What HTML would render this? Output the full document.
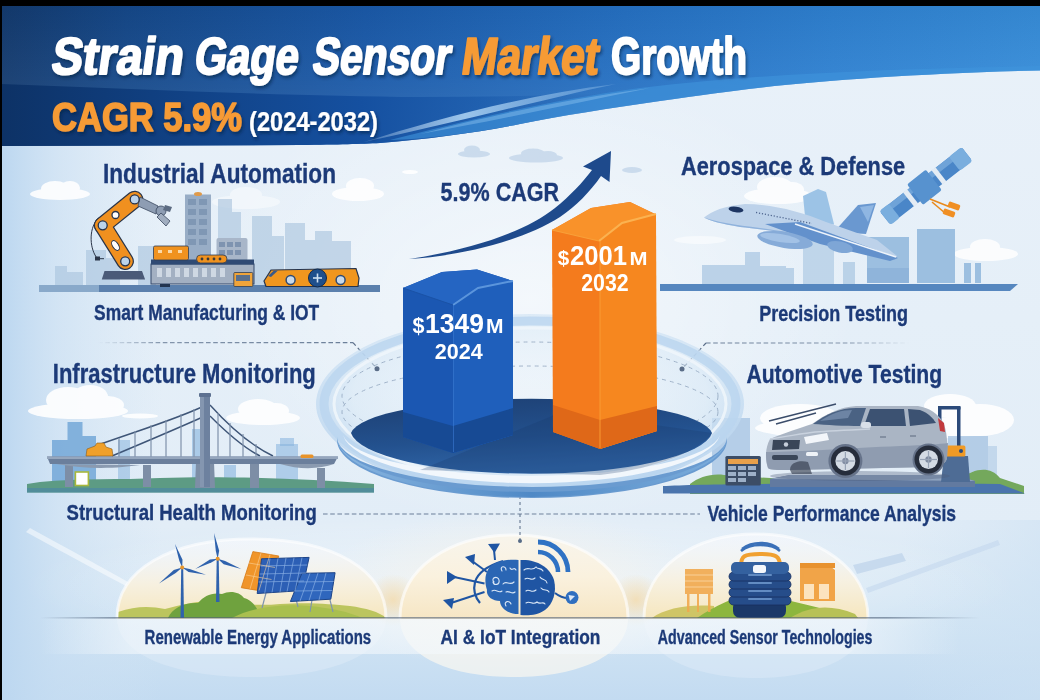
<!DOCTYPE html>
<html><head><meta charset="utf-8"><title>Strain Gage Sensor Market Growth</title>
<style>
html,body{margin:0;padding:0;background:#000;}
body{width:1040px;height:700px;overflow:hidden;}
svg{display:block;}
text{font-family:"Liberation Sans",sans-serif;font-weight:bold;}
</style></head><body>
<svg width="1040" height="700" viewBox="0 0 1040 700">
<defs>
  <linearGradient id="bg" x1="0" y1="0" x2="0" y2="1">
    <stop offset="0" stop-color="#e9f1f9"/>
    <stop offset="0.45" stop-color="#e5eff8"/>
    <stop offset="0.75" stop-color="#e2edf7"/>
    <stop offset="0.88" stop-color="#d2e5f4"/>
    <stop offset="1" stop-color="#c3dbf1"/>
  </linearGradient>
  <linearGradient id="bgl" x1="0" y1="0" x2="1" y2="0">
    <stop offset="0" stop-color="#bcd7f0" stop-opacity="1"/>
    <stop offset="0.35" stop-color="#c6ddf2" stop-opacity="0.6"/>
    <stop offset="1" stop-color="#d0e3f4" stop-opacity="0"/>
  </linearGradient>
  <linearGradient id="bgr" x1="0" y1="0" x2="1" y2="0">
    <stop offset="0" stop-color="#d0e3f4" stop-opacity="0"/>
    <stop offset="1" stop-color="#cde1f3" stop-opacity="0.8"/>
  </linearGradient>
  <radialGradient id="bgc" cx="0.5" cy="0.5" r="0.5">
    <stop offset="0" stop-color="#ffffff" stop-opacity="0.55"/>
    <stop offset="1" stop-color="#ffffff" stop-opacity="0"/>
  </radialGradient>
  <linearGradient id="hdr" x1="0" y1="0" x2="1" y2="0">
    <stop offset="0" stop-color="#133a6e"/>
    <stop offset="0.12" stop-color="#154889"/>
    <stop offset="0.35" stop-color="#1a59a8"/>
    <stop offset="0.6" stop-color="#2570c2"/>
    <stop offset="0.8" stop-color="#2e80d0"/>
    <stop offset="1" stop-color="#368cd8"/>
  </linearGradient>
</defs>
<rect x="0" y="0" width="1040" height="700" fill="#000"/>
<rect x="2" y="6" width="1038" height="694" fill="url(#bg)"/>
<rect x="2" y="140" width="160" height="560" fill="url(#bgl)"/>
<rect x="900" y="520" width="140" height="180" fill="url(#bgr)" opacity="0.7"/>
<ellipse cx="530" cy="300" rx="330" ry="230" fill="url(#bgc)"/>
<!-- faint bg clouds -->
<g fill="#c3d6ea" opacity="0.8">
  <ellipse cx="474" cy="154" rx="16" ry="3.5"/><ellipse cx="472" cy="150" rx="8" ry="4.5"/>
  <ellipse cx="536" cy="158" rx="27" ry="4.5"/><ellipse cx="533" cy="153.5" rx="12" ry="5"/><ellipse cx="548" cy="155" rx="9" ry="4"/>
  <ellipse cx="632" cy="170" rx="10" ry="3"/>
</g>
<ellipse cx="410" cy="172" rx="8" ry="2" fill="#fff" opacity="0.9"/>
<!-- dashed connectors -->
<defs>
  <linearGradient id="fadeL" gradientUnits="userSpaceOnUse" x1="98" y1="0" x2="353" y2="0">
    <stop offset="0" stop-color="#6b7f99" stop-opacity="0"/>
    <stop offset="0.25" stop-color="#6b7f99" stop-opacity="0.8"/>
    <stop offset="1" stop-color="#6b7f99"/>
  </linearGradient>
  <linearGradient id="fadeR" gradientUnits="userSpaceOnUse" x1="706" y1="0" x2="910" y2="0">
    <stop offset="0" stop-color="#6b7f99"/>
    <stop offset="0.7" stop-color="#6b7f99" stop-opacity="0.8"/>
    <stop offset="1" stop-color="#6b7f99" stop-opacity="0"/>
  </linearGradient>
</defs>
<g stroke-width="1.2" stroke-dasharray="4.6 2.6" fill="none">
  <line x1="98" y1="342.7" x2="353" y2="342.7" stroke="url(#fadeL)"/>
  <line x1="706" y1="343" x2="910" y2="343" stroke="url(#fadeR)"/>
  <line x1="323" y1="514" x2="700" y2="514" stroke="#6b7f99"/>
</g>
<g stroke="#5a6d88" stroke-width="1.2" stroke-dasharray="4 3" fill="none">
  <line x1="353" y1="342.7" x2="377" y2="368.7"/>
  <line x1="706" y1="343" x2="682" y2="369"/>
</g>
<!-- header band -->
<defs>
  <linearGradient id="hdrv" gradientUnits="userSpaceOnUse" x1="0" y1="6" x2="0" y2="146">
    <stop offset="0" stop-color="#000" stop-opacity="0.04"/>
    <stop offset="0.5" stop-color="#fff" stop-opacity="0.04"/>
    <stop offset="1" stop-color="#fff" stop-opacity="0.12"/>
  </linearGradient>
  <linearGradient id="dband" gradientUnits="userSpaceOnUse" x1="2" y1="0" x2="600" y2="0">
    <stop offset="0" stop-color="#0d3266"/>
    <stop offset="0.25" stop-color="#103f80"/>
    <stop offset="0.6" stop-color="#1550a0"/>
    <stop offset="0.8" stop-color="#1a5aab" stop-opacity="0.7"/>
    <stop offset="1" stop-color="#1f62b2" stop-opacity="0"/>
  </linearGradient>
  <linearGradient id="swoosh" x1="0" y1="0" x2="1" y2="0">
    <stop offset="0" stop-color="#cfe4f7" stop-opacity="0.2"/>
    <stop offset="0.4" stop-color="#a9d0f2" stop-opacity="0.9"/>
    <stop offset="1" stop-color="#9cc8ef" stop-opacity="0.3"/>
  </linearGradient>
  <filter id="tsh" x="-5%" y="-20%" width="110%" height="150%">
    <feDropShadow dx="1.5" dy="2.5" stdDeviation="1.5" flood-color="#06203f" flood-opacity="0.55"/>
  </filter>
</defs>
<path d="M2 6 H1040 V70.5 C930 73 830 80 760 87.7 C730 91 700 95.5 660 101 C610 108 560 116 520 124 C480 132 430 139 380 143 C360 144 340 144.5 300 145 L2 146 Z" fill="url(#hdr)"/>
<path d="M2 6 H1040 V70.5 C930 73 830 80 760 87.7 C730 91 700 95.5 660 101 C610 108 560 116 520 124 C480 132 430 139 380 143 C360 144 340 144.5 300 145 L2 146 Z" fill="url(#hdrv)"/>
<path d="M2 84 C150 90 300 96 420 97 C480 97 540 96 600 94 L600 108 C560 116 540 120 520 124 C480 132 430 139 380 143 C360 144 340 144.5 300 145 L2 146 Z" fill="url(#dband)"/>
<path d="M390 140 C460 122 540 102 640 88 C760 74 880 69 1040 66 V70.5 C930 73 830 80 760 87.7 C730 91 700 95.5 660 101 C610 108 560 116 520 124 C480 132 430 139 390 140 Z" fill="#3f94dc" opacity="0.6"/>
<path d="M364 142 C440 118 530 94 616 84 C540 100 450 124 364 142 Z" fill="url(#swoosh)"/>
<path d="M420 134 C480 118 560 100 650 88 C570 104 490 122 420 134 Z" fill="#8cc4f0" opacity="0.45"/>

<!-- title -->
<g filter="url(#tsh)">
<g fill="#fff" stroke="#fff" stroke-width="2" stroke-linejoin="round">
<text transform="translate(50 73.5) skewX(-8)" x="0" y="0" font-size="52" textLength="132" lengthAdjust="spacingAndGlyphs">Strain</text>
<text transform="translate(193 73.5) skewX(-8)" x="0" y="0" font-size="52" textLength="104" lengthAdjust="spacingAndGlyphs">Gage</text>
<text transform="translate(311 73.5) skewX(-8)" x="0" y="0" font-size="52" textLength="138" lengthAdjust="spacingAndGlyphs">Sensor</text>
<text transform="translate(460 74) skewX(-8)" x="0" y="0" font-size="52" textLength="137" lengthAdjust="spacingAndGlyphs" fill="#f69b35" stroke="#f69b35">Market</text>
<text x="611" y="74" font-size="52" textLength="136" lengthAdjust="spacingAndGlyphs">Growth</text>
</g>
<text x="52" y="131" font-size="40" textLength="190" lengthAdjust="spacingAndGlyphs" fill="#f69b35" stroke="#f69b35" stroke-width="1.6" stroke-linejoin="round">CAGR 5.9%</text>
<text x="249" y="131" font-size="27" textLength="129" lengthAdjust="spacingAndGlyphs" fill="#fff" stroke="#fff" stroke-width="0.2" font-weight="normal">(2024-2032)</text>
</g>

<!-- ===== Industrial Automation illustration ===== -->
<g id="ind">
  <g fill="#fff" opacity="0.9">
    <ellipse cx="60" cy="194" rx="30" ry="6"/><ellipse cx="55" cy="189" rx="14" ry="8"/><ellipse cx="70" cy="188" rx="10" ry="7"/>
    <ellipse cx="358" cy="194" rx="26" ry="7"/><ellipse cx="360" cy="186" rx="14" ry="8"/>
  </g>
  <g fill="#fff" opacity="0.45"><ellipse cx="246" cy="202" rx="34" ry="7"/><ellipse cx="246" cy="195" rx="16" ry="8"/></g>
  <g fill="#a9c4de" opacity="0.62">
    <rect x="55" y="266" width="12" height="20"/><rect x="67" y="272" width="16" height="14"/>
    <rect x="86" y="250" width="20" height="36"/><rect x="106" y="258" width="14" height="28"/>
    <rect x="138" y="246" width="18" height="40"/>
    <rect x="218" y="199" width="14" height="40"/><rect x="232" y="212" width="9" height="27"/>
    <rect x="252" y="216" width="20" height="70"/><rect x="272" y="236" width="12" height="50"/>
    <rect x="285" y="223" width="20" height="63"/><rect x="305" y="240" width="10" height="46"/>
    <rect x="315" y="231" width="17" height="55"/><rect x="332" y="241" width="19" height="45"/>
  </g>
  <!-- tall building -->
  <rect x="185" y="194.5" width="26" height="67" fill="#98adc6"/>
  <g fill="#7f97b4">
    <rect x="188" y="199" width="8" height="6"/><rect x="199" y="199" width="8" height="6"/>
    <rect x="188" y="209" width="8" height="6"/><rect x="199" y="209" width="8" height="6"/>
    <rect x="188" y="219" width="8" height="6"/><rect x="199" y="219" width="8" height="6"/>
    <rect x="188" y="229" width="8" height="6"/><rect x="199" y="229" width="8" height="6"/>
    <rect x="188" y="239" width="8" height="6"/><rect x="199" y="239" width="8" height="6"/>
  </g>
  <ellipse cx="198" cy="194" rx="4" ry="2" fill="#e09a4a"/>
  <rect x="216.5" y="238" width="31" height="23" rx="2" fill="#a8b6c9"/>
  <g fill="#7e93b0"><rect x="219" y="242" width="6" height="5"/><rect x="227" y="242" width="6" height="5"/><rect x="235" y="242" width="6" height="5"/><rect x="219" y="250" width="6" height="5"/><rect x="227" y="250" width="6" height="5"/><rect x="235" y="250" width="6" height="5"/></g>
  <!-- ground -->
  <path d="M39 285 H380 V292 H39 Z" fill="#5b80ad"/>
  <rect x="39" y="285" width="60" height="7" fill="#a9c4de" opacity="0.6"/>
  <!-- machine -->
  <rect x="151" y="264" width="103" height="20" fill="#a3b0c2" stroke="#34496b" stroke-width="1"/>
  <rect x="151" y="259.5" width="103" height="5" fill="#2f4a74"/>
  <g fill="#cfd8e3"><rect x="157" y="268" width="5" height="9"/><rect x="166" y="268" width="5" height="9"/><rect x="175" y="268" width="5" height="9"/><rect x="184" y="268" width="5" height="9"/><rect x="193" y="268" width="5" height="9"/><rect x="202" y="268" width="5" height="9"/><rect x="211" y="268" width="5" height="9"/><rect x="220" y="268" width="5" height="9"/></g>
  <rect x="153.5" y="246" width="35" height="14" rx="1.5" fill="#f0921f" stroke="#2f3d55" stroke-width="0.8"/>
  <g fill="#fbd9a8"><rect x="158" y="250" width="4" height="3"/><rect x="168" y="250" width="4" height="3"/><rect x="178" y="250" width="4" height="3"/></g>
  <rect x="196.5" y="255" width="30.5" height="8" rx="4" fill="#f0921f" stroke="#2f3d55" stroke-width="0.8"/>
  <g fill="#3a3a3a"><circle cx="202" cy="259" r="1.4"/><circle cx="208" cy="259" r="1.4"/><circle cx="214" cy="259" r="1.4"/><circle cx="220" cy="259" r="1.4"/></g>
  <rect x="233.8" y="272.5" width="19" height="14" rx="1" fill="#f0a43a" stroke="#2f3d55" stroke-width="0.8"/>
  <rect x="236" y="275" width="14" height="6" fill="#5a6f8c"/>
  <rect x="160" y="284" width="10" height="3" fill="#23344f"/>
  <!-- AGV -->
  <path d="M266 286.5 L264 281 L271 270 L356 268.5 L359 278 L358 286.5 Z" fill="#f0961e" stroke="#26344d" stroke-width="1.2"/>
  <path d="M268 276 L274 270.5 L278 270.5 L271 277 Z" fill="#3a5a8a"/>
  <circle cx="317.5" cy="278" r="9" fill="#1f4f8c" stroke="#10294d" stroke-width="1"/>
  <g stroke="#cfe0f2" stroke-width="1.6"><line x1="313" y1="278" x2="322" y2="278"/><line x1="317.5" y1="273.5" x2="317.5" y2="282.5"/></g>
  <circle cx="290.6" cy="280" r="4.5" fill="#c8d9ea" stroke="#2d4a74" stroke-width="1.5"/>
  <circle cx="340.6" cy="280" r="4.5" fill="#c8d9ea" stroke="#2d4a74" stroke-width="1.5"/>
  <!-- robot arm -->
  <path d="M101.8 279.5 L104.5 271 L142 271 L145.1 279.5 Z" fill="#4a5a78"/>
  <path d="M97.5 219 C88 230 90 250 97.5 258.7 L104 258.7" fill="none" stroke="#2b3548" stroke-width="1"/>
  <rect x="95" y="256.5" width="5" height="4" fill="#2b3548"/>
  <g stroke="#2b3548" stroke-width="1.2">
    <line x1="125.2" y1="261.3" x2="102.7" y2="225.3" stroke-width="17.5" stroke-linecap="round"/>
    <line x1="102.7" y1="225.3" x2="134.7" y2="199.4" stroke-width="17.5" stroke-linecap="round"/>
  </g>
  <g stroke="#f0901f">
    <line x1="125.2" y1="261.3" x2="102.7" y2="225.3" stroke-width="15" stroke-linecap="round"/>
    <line x1="102.7" y1="225.3" x2="134.7" y2="199.4" stroke-width="15" stroke-linecap="round"/>
  </g>
  <path d="M140 197 L158 206 L156 214 L138 206 Z" fill="#8e9db3" stroke="#3a475e" stroke-width="0.8"/>
  <circle cx="161" cy="211" r="5" fill="#8e9db3" stroke="#3a475e" stroke-width="0.8"/>
  <path d="M161 213 L170 221 L166 226 L157 217 Z" fill="#a0adbf" stroke="#3a475e" stroke-width="0.8"/>
  <path d="M165 205 L172 207 L170 212 L163 210 Z" fill="#5c6b82"/>
  <g fill="#bcd4ec" stroke="#26344d" stroke-width="1.3">
    <circle cx="102.7" cy="225.3" r="4.5"/><circle cx="134.7" cy="199.4" r="4.5"/><circle cx="125.2" cy="261.3" r="4.5"/>
    <circle cx="115.5" cy="215" r="3.5" fill="#fff"/>
  </g>
  <ellipse cx="115.5" cy="245.5" rx="3" ry="5.5" transform="rotate(-32 115.5 245.5)" fill="#fff" stroke="#26344d" stroke-width="1"/>
</g>

<!-- ===== Aerospace illustration ===== -->
<g id="aero">
  <g fill="#fff" opacity="0.85">
    <ellipse cx="778" cy="196" rx="34" ry="8"/><ellipse cx="775" cy="187" rx="18" ry="10"/><ellipse cx="792" cy="190" rx="12" ry="8"/>
    <ellipse cx="986" cy="254" rx="32" ry="7"/><ellipse cx="985" cy="247" rx="15" ry="8"/>
  </g>
  <g fill="#fff" opacity="0.5"><ellipse cx="700" cy="240" rx="26" ry="4"/></g>
  <g fill="#b3cde6" opacity="0.85">
    <rect x="702" y="265" width="45" height="20"/><rect x="745" y="252" width="15" height="33"/>
    <rect x="760" y="266" width="26" height="19"/><rect x="786" y="268" width="8" height="17"/>
    <rect x="803" y="224" width="31" height="61" opacity="0.9"/>
    <rect x="843" y="262" width="12" height="23"/>
  </g>
  <g fill="#9cbfe0">
    <rect x="867" y="237" width="42" height="46"/><rect x="917" y="229" width="38" height="54"/>
    <rect x="964" y="263" width="7" height="20"/><rect x="975" y="263" width="6" height="20"/>
  </g>
  <rect x="867" y="268" width="42" height="15" fill="#8fb4da"/>
  <!-- ground -->
  <path d="M660 284 H1018 L1010 291 H660 Z" fill="#5687bf"/>
  <!-- plane -->
  <path d="M803 196 L818 189 L826 192 L834 224 L806 226 Z" fill="#9cc3e6"/>
  <path d="M834 232 L858 205 L876 203 L866 234 Z" fill="#6a98d0"/>
  <path d="M860 207 L874 205 L868 222 Z" fill="#8fb6e2"/>
  <path d="M704 217.5 C712 211 724 206 745 204 C770 204 800 211 826 222 L877 240 L897 256 L895 260 C870 256 840 246 816 239 C790 233 760 229 740 227 C722 224 710 221 704 217.5 Z" fill="#bdd2ea"/>
  <path d="M704 217.5 C716 222 735 225 760 228 C790 232 820 238 850 246 L897 258 L895 260 C870 256 840 246 816 239 C790 233 760 229 740 227 C722 224 710 221 704 217.5 Z" fill="#8fb2dc"/>
  <path d="M765 224 L800 222 L898 258 L890 261 L820 244 Z" fill="#6391cc"/>
  <path d="M795 224 L896 257" stroke="#eef4fb" stroke-width="1.5"/>
  <ellipse cx="785" cy="240" rx="28" ry="8" transform="rotate(9 785 240)" fill="#86abd8"/>
  <ellipse cx="780" cy="238" rx="20" ry="4" transform="rotate(9 780 238)" fill="#a3c2e6"/>
  <ellipse cx="840" cy="247" rx="13" ry="5.5" transform="rotate(12 840 247)" fill="#7ea6d6"/>
  <ellipse cx="736" cy="209.5" rx="7.5" ry="2.8" transform="rotate(8 736 209.5)" fill="#1d3562"/>
  <path d="M756 212.5 L812 223.5" stroke="#4f6690" stroke-width="1.3" stroke-dasharray="1.2 1.8"/>
  <!-- satellite -->
  <g transform="translate(926 186) rotate(-38)">
    <rect x="-52" y="-8.5" width="104" height="17" rx="3" fill="#4a86c8"/>
    <rect x="-52" y="-8.5" width="104" height="6" rx="2" fill="#6fa3d8"/>
    <rect x="-22" y="-9" width="5" height="18" fill="#e4ecf4"/>
    <rect x="14" y="-9" width="5" height="18" fill="#e4ecf4"/>
    <rect x="-14" y="-13" width="24" height="26" rx="2" fill="#5792cf"/>
    <rect x="36" y="-9" width="16" height="18" rx="3" fill="#7aaede"/>
    <rect x="-52" y="-9" width="12" height="18" rx="3" fill="#7aaede"/>
  </g>
  <g stroke="#e98a1c" stroke-width="1.6" fill="none"><path d="M930 199 L950 207"/><path d="M932 202 L945 213"/></g>
  <rect x="948" y="203" width="12" height="6" rx="1.5" transform="rotate(20 954 206)" fill="#f08f23"/>
  <rect x="943" y="210" width="12" height="6" rx="1.5" transform="rotate(20 949 213)" fill="#f08f23"/>
</g>

<!-- ===== Infrastructure illustration ===== -->
<g id="infra">
  <g fill="#fff" opacity="0.9">
    <ellipse cx="78" cy="411" rx="50" ry="8"/><ellipse cx="68" cy="400" rx="22" ry="13"/><ellipse cx="90" cy="397" rx="18" ry="12"/><ellipse cx="108" cy="405" rx="16" ry="9"/>
    <ellipse cx="140" cy="416" rx="18" ry="2.5"/>
    <ellipse cx="263" cy="418" rx="37" ry="7"/><ellipse cx="258" cy="409" rx="20" ry="10"/><ellipse cx="276" cy="411" rx="13" ry="8"/>
  </g>
  <g fill="#74a8d8" opacity="0.85">
    <rect x="52" y="440" width="17" height="45"/><rect x="67.5" y="422" width="15" height="63"/><rect x="82" y="436" width="14" height="49"/>
    <rect x="118" y="440" width="12" height="45" opacity="0.5"/>
    <rect x="192" y="429" width="10" height="56" opacity="0.6"/>
    <rect x="224" y="465" width="12" height="20" opacity="0.6"/>
    <rect x="276" y="444" width="22" height="41" opacity="0.55"/><rect x="280" y="438" width="14" height="8" opacity="0.55"/>
  </g>
  <path d="M27 484 L40 482 C80 478 120 480 160 478 C220 476 300 478 374 484 V492.5 H27 Z" fill="#5d9b84"/>
  <path d="M27 488 H374 V492.5 H27 Z" fill="#4f8aa0" opacity="0.8"/>
  <!-- piers -->
  <g fill="#7d8ea6">
    <rect x="65" y="465" width="8" height="22"/><rect x="143" y="465" width="8" height="22"/>
    <rect x="250" y="464" width="9" height="24"/><rect x="317" y="468" width="8" height="20"/>
    <path d="M196 462 L200 462 V466 H210 V462 L214 462 L215 488 H195 Z"/>
  </g>
  <rect x="75.4" y="472" width="13" height="13.5" fill="#fff" stroke="#a8b83c" stroke-width="1.6"/>
  <!-- cables -->
  <g fill="none" stroke="#3e5577" stroke-width="1.4">
    <path d="M98 445 C140 430 180 418 206 405"/>
    <path d="M112 456 C150 440 185 425 205 416"/>
    <path d="M210 405 C228 425 250 445 273 456"/>
    <path d="M210 416 C226 432 244 448 260 456"/>
  </g>
  <g stroke="#7f91aa" stroke-width="1.2">
    <line x1="119" y1="438" x2="119" y2="457"/><line x1="135" y1="431" x2="135" y2="457"/><line x1="151" y1="425" x2="151" y2="457"/>
    <line x1="166" y1="420" x2="166" y2="457"/><line x1="181" y1="414" x2="181" y2="457"/><line x1="194" y1="409" x2="194" y2="457"/>
    <line x1="218" y1="413" x2="218" y2="457"/><line x1="230" y1="423" x2="230" y2="457"/><line x1="243" y1="434" x2="243" y2="457"/><line x1="256" y1="444" x2="256" y2="457"/>
  </g>
  <!-- deck -->
  <path d="M47 456.5 H338 L334 464 H50 Z" fill="#6b7f9c"/>
  <path d="M47 456.5 H338 V459 H47 Z" fill="#95a6bd"/>
  <path d="M56 464 C90 470 120 468 140 465 Z" fill="#8a9ab0"/>
  <path d="M280 464 C300 470 320 469 334 464 Z" fill="#8a9ab0"/>
  <!-- tower -->
  <rect x="200" y="395" width="10" height="92" fill="#6d819f"/>
  <rect x="200" y="395" width="4" height="92" fill="#8496b0"/>
  <rect x="199" y="393" width="12" height="4" rx="1" fill="#5d7191"/>
  <!-- vehicles -->
  <path d="M86 456 L87 449 L95 446 L97 443 L104 443 L106 447 L112 449 L113 456 Z" fill="#f0a02a" stroke="#8a5a1a" stroke-width="0.6"/>
  <rect x="300.5" y="454.5" width="13" height="3.5" rx="1.5" fill="#e8932a"/>
</g>

<!-- ===== Automotive illustration ===== -->
<g id="auto">
  <g fill="#fff" opacity="0.9">
    <ellipse cx="880" cy="428" rx="125" ry="12"/><ellipse cx="800" cy="418" rx="40" ry="14"/><ellipse cx="980" cy="420" rx="34" ry="16"/><ellipse cx="950" cy="406" rx="26" ry="12"/>
  </g>
  <g fill="#a9c6e3" opacity="0.8">
    <rect x="712" y="418" width="38" height="62"/><rect x="948" y="436" width="40" height="44"/><rect x="975" y="446" width="22" height="34" opacity="0.7"/>
  </g>
  <!-- ground -->
  <path d="M690 484 C700 476 715 472 730 476 L770 478 L960 479 C975 468 990 466 1000 478 L1024 486 V494 H690 Z" fill="#74a85c"/>
  <path d="M663 486 C700 484 800 483 1000 484 L1025 493.5 H663 Z" fill="#4a74ad"/>
  <!-- control box -->
  <rect x="725.4" y="456" width="35.4" height="29.4" rx="1.5" fill="#3c4d66"/>
  <rect x="728" y="459" width="30" height="5" fill="#e8a04a"/>
  <g fill="#9db0c8"><rect x="728" y="466" width="8" height="4"/><rect x="738" y="466" width="8" height="4"/><rect x="748" y="466" width="8" height="4"/><rect x="728" y="472" width="8" height="4"/><rect x="738" y="472" width="8" height="4"/><rect x="748" y="472" width="8" height="4"/><rect x="728" y="478" width="8" height="4"/><rect x="738" y="478" width="8" height="4"/></g>
  <!-- platform -->
  <path d="M770 479 L790 475 H955 L975 481 V487 H770 Z" fill="#627aa0"/>
  <path d="M770 479 L790 475 H955 L975 481 Z" fill="#8ea2bd"/>
  <!-- test stand -->
  <rect x="938" y="407" width="3.5" height="48" fill="#2b4a7a"/><rect x="957" y="407" width="3.5" height="48" fill="#2b4a7a"/>
  <rect x="938" y="406" width="22.5" height="3.5" fill="#2b4a7a"/>
  <path d="M944 456 H968 L970 482 H941 Z" fill="#4e6c95"/>
  <rect x="945.4" y="445.5" width="20" height="11" rx="1.5" fill="#f09a25"/>
  <circle cx="961" cy="451" r="2" fill="#2b4a7a"/>
  <!-- speed lines -->
  <g stroke="#3a4c6a" stroke-width="1.3" fill="none"><path d="M769 421 L836 404"/><path d="M776 424 L816 413"/></g>
  <!-- car -->
  <ellipse cx="860" cy="476" rx="90" ry="5" fill="#4c5d78" opacity="0.35"/>
  <path d="M768 468 C765 460 765 448 770 439 C784 433 800 428 812 424 C826 414 840 407 856 406 L918 406 C930 408 938 414 943 422 C947 430 948 445 947 458 C946 464 940 466 930 467 L790 470 C778 470 770 470 768 468 Z" fill="#aab5c4"/>
  <path d="M766 452 C800 452 850 448 900 446 C925 445 940 444 948 443 L947 458 C946 464 940 466 930 467 L790 470 C778 470 770 470 768 468 C766 462 766 456 766 452 Z" fill="#8f9cb0"/>
  <path d="M770 439 C790 436 805 433 815 432 C830 431 850 430 870 429" fill="none" stroke="#c9d2de" stroke-width="1.5"/>
  <path d="M813 424 C826 414 840 408 856 408 L866 408 L860 426 C845 426 826 425 813 424 Z" fill="#4a6283"/>
  <path d="M820 421 C832 413 842 410 852 410 L848 418 Z" fill="#7c93b2" opacity="0.7"/>
  <path d="M864 426 L870 409 L904 409 L906 426 Z" fill="#3c5272"/>
  <path d="M910 426 L908 409 L920 410 C928 413 933 418 936 423 Z" fill="#3c5272"/>
  <rect x="861" y="422" width="10" height="6" rx="2.5" fill="#d9e0e9"/>
  <path d="M938 418 L944 423 L945 432 L940 431 Z" fill="#c23a3d"/>
  <path d="M773 440 L800 440 L799 449 L772 450 Z" fill="#3a4658"/>
  <circle cx="786" cy="444.5" r="2.2" fill="#c6ceda"/>
  <path d="M804 437 L827 433 L829 440 L806 444 Z" fill="#f3f6fa"/>
  <rect x="772" y="455" width="26" height="5" rx="2" fill="#3a4658"/>
  <rect x="806" y="452" width="12" height="4" rx="1.5" fill="#eef2f7"/>
  <line x1="880" y1="437" x2="886" y2="437" stroke="#6a778b" stroke-width="1.2"/>
  <line x1="910" y1="436" x2="916" y2="436" stroke="#6a778b" stroke-width="1.2"/>
  <circle cx="845.4" cy="461" r="17" fill="#66738a"/>
  <circle cx="928.5" cy="459.5" r="16" fill="#66738a"/>
  <circle cx="845.4" cy="461" r="14.5" fill="#262d3b"/>
  <circle cx="928.5" cy="459.5" r="14" fill="#262d3b"/>
  <circle cx="845.4" cy="461" r="10" fill="#d4dbe4"/><circle cx="845.4" cy="461" r="3.2" fill="#7f8ba0"/>
  <circle cx="928.5" cy="459.5" r="9.5" fill="#d4dbe4"/><circle cx="928.5" cy="459.5" r="3.2" fill="#7f8ba0"/>
  <g stroke="#98a4b6" stroke-width="1.2"><line x1="845.4" y1="452" x2="845.4" y2="470"/><line x1="836.4" y1="461" x2="854.4" y2="461"/><line x1="928.5" y1="451" x2="928.5" y2="468"/><line x1="920" y1="459.5" x2="937" y2="459.5"/></g>
  <path d="M790 470 C790 462 800 460 808 462 L812 474 L792 474 Z" fill="#2c3444" opacity="0.6"/>
</g>

<!-- ===== Bottom domes ===== -->
<defs>
  <linearGradient id="warm" x1="0" y1="0" x2="0" y2="1">
    <stop offset="0" stop-color="#eef4fa" stop-opacity="0.2"/>
    <stop offset="0.55" stop-color="#f7f0de" stop-opacity="0.9"/>
    <stop offset="1" stop-color="#f6e6bd"/>
  </linearGradient>
  <linearGradient id="warm2" x1="0" y1="0" x2="0" y2="1">
    <stop offset="0" stop-color="#f8f4ea" stop-opacity="0.8"/>
    <stop offset="0.5" stop-color="#faf1de"/>
    <stop offset="1" stop-color="#f6e6c4"/>
  </linearGradient>
  <radialGradient id="glowW" cx="0.5" cy="0.5" r="0.5">
    <stop offset="0" stop-color="#f4d9a6" stop-opacity="0.75"/>
    <stop offset="1" stop-color="#f4d9a6" stop-opacity="0"/>
  </radialGradient>
  <radialGradient id="glowC" cx="0.5" cy="0.5" r="0.5">
    <stop offset="0" stop-color="#f7f3ea" stop-opacity="0.9"/>
    <stop offset="1" stop-color="#f7f3ea" stop-opacity="0"/>
  </radialGradient>
  <clipPath id="upper"><rect x="0" y="0" width="1040" height="619"/></clipPath>
  <clipPath id="cl1"><path d="M117 618 C117 570 170 539 252 539 C334 539 386 570 386 618 C386 655 330 677 252 677 C174 677 117 655 117 618 Z"/></clipPath>
  <clipPath id="cl2"><path d="M400 618 C400 568 450 535 514 535 C578 535 628 568 628 618 C628 655 580 677 514 677 C448 677 400 655 400 618 Z"/></clipPath>
  <clipPath id="cl3"><path d="M644 618 C644 568 694 534 756 534 C818 534 868 568 868 618 C868 655 820 678 756 678 C692 678 644 655 644 618 Z"/></clipPath>
</defs>
<ellipse cx="520" cy="585" rx="500" ry="70" fill="url(#bgc)"/>
<ellipse cx="514" cy="590" rx="200" ry="80" fill="url(#glowC)"/>
<ellipse cx="393" cy="600" rx="28" ry="26" fill="url(#glowW)"/>
<ellipse cx="636" cy="600" rx="28" ry="26" fill="url(#glowW)"/>
<!-- faint streaks right -->
<g fill="#c2d6ec" opacity="0.8">
  <path d="M853 565 L902 553 L906 561 L857 574 Z"/>
  <path d="M866 588 L998 540 L1000 545 L868 593 Z" opacity="0.7"/>
</g>
<path d="M30 528 C70 550 100 566 128 582 L126 586 C96 570 66 554 26 532 Z" fill="#fff" opacity="0.5"/>
<!-- dome 1 -->
<path d="M117 618 C117 570 170 539 252 539 C334 539 386 570 386 618 C386 655 330 677 252 677 C174 677 117 655 117 618 Z" fill="#fbfcfd" opacity="0.5" clip-path="url(#upper)"/>
<path d="M117 618 C117 570 170 539 252 539 C334 539 386 570 386 618 C386 655 330 677 252 677 C174 677 117 655 117 618 Z" fill="#fbfcfd" opacity="0.22"/>
<g clip-path="url(#cl1)">
  <rect x="118" y="539" width="268" height="80" fill="url(#warm)"/>
  <path d="M118 612 C135 606 150 606 165 609 C185 604 200 600 215 602 C240 604 260 606 280 604 C310 602 330 604 350 606 C365 608 380 612 386 618 H118 Z" fill="#bcc55e"/>
  <path d="M168 618 C172 608 185 602 198 603 C204 596 212 592 222 594 C230 590 240 592 244 598 C252 600 256 606 262 618 Z" fill="#6fa23e"/>
  <path d="M232 618 C250 608 280 603 310 606 C330 608 350 612 362 618 Z" fill="#a9bf4e"/>
</g>
<path clip-path="url(#upper)" d="M117 618 C117 570 170 539 252 539 C334 539 386 570 386 618 C386 655 330 677 252 677 C174 677 117 655 117 618 Z" fill="none" stroke="#fff" stroke-width="3" opacity="0.6"/>
<!-- turbines -->
<g fill="#2f62ad">
  <path d="M180.5 618 L181.2 568 H183.2 L184 618 Z"/>
  <path d="M216 602 L216.7 559 H218.7 L219.5 602 Z"/>
  <path d="M182.2 567.5 L182.5 559.7 L175.0 544.0 L179.3 560.7 Z"/>
  <path d="M182.2 567.5 L188.6 572.1 L206.0 574.7 L189.6 568.9 Z"/>
  <path d="M182.2 567.5 L173.8 570.1 L159.0 583.4 L175.7 572.9 Z"/>
  <path d="M217.7 558.8 L219.2 550.7 L214.0 532.9 L215.8 551.1 Z"/>
  <path d="M217.7 558.8 L223.7 564.2 L241.3 569.0 L225.1 561.1 Z"/>
  <path d="M217.7 558.8 L209.9 559.5 L195.2 569.0 L211.3 562.6 Z"/>
</g>
<circle cx="182.2" cy="567.5" r="2" fill="#e8962a"/><circle cx="217.7" cy="558.8" r="2" fill="#e8962a"/>
<!-- solar panels -->
<g stroke="#7f94ae" stroke-width="1.2"><line x1="266" y1="593" x2="262" y2="608"/><line x1="294" y1="591" x2="298" y2="607"/><line x1="312" y1="600" x2="310" y2="612"/><line x1="330" y1="600" x2="333" y2="612"/></g>
<path d="M252.9 551.6 L278.8 556 L267.3 592 L241.3 587.7 Z" fill="#f0952a" stroke="#d77a15" stroke-width="0.8"/>
<path d="M261.5 558.8 L309.1 557.4 L301.9 590.6 L257.2 593.5 Z" fill="#2c5fb5" stroke="#1d4488" stroke-width="1"/>
<path d="M301.9 573.3 L335.1 572.7 L330.8 599.2 L290.4 601.5 Z" fill="#2f66bd" stroke="#1d4488" stroke-width="1"/>
<g stroke="#9cc0ee" stroke-width="0.7" opacity="0.8">
  <line x1="270" y1="558.5" x2="264.8" y2="593"/><line x1="278" y1="558.3" x2="272" y2="592.5"/><line x1="286" y1="558" x2="280" y2="592"/><line x1="294" y1="557.8" x2="287" y2="591.7"/><line x1="302" y1="557.6" x2="295" y2="591.2"/>
  <line x1="260.5" y1="566" x2="307.5" y2="565"/><line x1="259.5" y1="574" x2="306" y2="573"/><line x1="258.5" y1="582" x2="304" y2="581"/>
  <line x1="310" y1="573.2" x2="300" y2="601"/><line x1="318" y1="573" x2="309" y2="600.6"/><line x1="326" y1="572.9" x2="319" y2="600"/>
  <line x1="298" y1="582" x2="333.7" y2="581.5"/><line x1="294" y1="591" x2="332.3" y2="590.5"/>
</g>
<g stroke="#fbd7a4" stroke-width="0.7" opacity="0.8">
  <line x1="261" y1="553" x2="250" y2="589"/><line x1="270" y1="554.5" x2="259" y2="590.5"/>
  <line x1="249" y1="563" x2="275" y2="567.5"/><line x1="246" y1="575" x2="271.5" y2="579.5"/>
</g>

<!-- dome 2 -->
<path d="M400 618 C400 568 450 535 514 535 C578 535 628 568 628 618 C628 655 580 677 514 677 C448 677 400 655 400 618 Z" fill="#fbf8f1" opacity="0.7"/>
<g clip-path="url(#cl2)">
  <rect x="400" y="535" width="228" height="84" fill="url(#warm2)"/>
</g>
<path clip-path="url(#upper)" d="M400 618 C400 568 450 535 514 535 C578 535 628 568 628 618 C628 655 580 677 514 677 C448 677 400 655 400 618 Z" fill="none" stroke="#fff" stroke-width="3" opacity="0.6"/>
<!-- brain -->
<g stroke="#1f55a3" stroke-width="2" fill="none">
  <path d="M503 561 C490 565 478 572 475 582 C473 590 475 597 480 603" stroke-width="2.2"/>
  <path d="M495 560 L494 550"/>
  <path d="M487 572 L472 561"/>
  <path d="M484.5 583.5 L454 577"/>
  <path d="M484.5 592 L451 603"/>
  <path d="M555 593 C560 597 565 598 568 598"/>
</g>
<g fill="#1f55a3">
  <path d="M488 544 L500 543.5 L494.5 553 Z"/>
  <path d="M465 557 L475 554 L474 565 Z"/>
  <path d="M447 571 L457 577 L447 584 Z"/>
  <path d="M443 600 L454 598 L452 609 Z"/>
</g>
<path d="M518.5 560 C508 559 495 561 489 568 C484 575 485 584 487 590 C486 596 492 601 500 601 C500 608 508 614 518.5 614 Z" fill="#2a66b4"/>
<path d="M520.5 560 C536 559 550 567 554 580 C557 592 553 604 545 610 C538 615 528 616 520.5 615 Z" fill="#1f55a3"/>
<g stroke="#e3eefa" stroke-width="1.1" fill="none" opacity="0.95" stroke-linecap="round">
  <path d="M502 571 C499 566 506 565 506 570 M510 568 C512 572 514 566 516 570"/>
  <path d="M494 582 C490 578 498 575 499 580 C500 585 494 586 493 582"/>
  <path d="M503 584 C506 580 510 586 514 582"/>
  <path d="M492 591 C496 588 498 594 502 591 M506 592 C509 590 512 595 515 592"/>
  <path d="M506 606 C503 601 510 600 511 604"/>
  <path d="M524 570 C528 566 532 572 536 567 C538 570 541 567 543 571"/>
  <path d="M525 579 C529 576 531 582 535 578 M540 577 C542 581 546 578 547 583"/>
  <path d="M526 591 C529 588 532 594 536 590 M541 588 C544 592 547 588 549 592"/>
  <path d="M526 603 C530 600 533 606 537 602 C540 605 543 601 545 604"/>
</g>
<circle cx="572" cy="597.6" r="6.5" fill="#2f6fc0"/>
<path d="M568.5 595 L575 596 L570 601 Z" fill="#dce8f6"/>
<g fill="none" stroke="#2f72c4">
  <path d="M538 552 A20 20 0 0 1 558 572" stroke-width="4.5"/>
  <path d="M538 542 A30 30 0 0 1 568 572" stroke-width="4.8"/>
</g>
<line x1="520" y1="496" x2="520" y2="540" stroke="#566a86" stroke-width="1" stroke-dasharray="3 3"/>
<circle cx="520" cy="541" r="2" fill="#566a86"/>

<!-- dome 3 -->
<path d="M644 618 C644 568 694 534 756 534 C818 534 868 568 868 618 C868 655 820 678 756 678 C692 678 644 655 644 618 Z" fill="#fbfcfd" opacity="0.5" clip-path="url(#upper)"/>
<path d="M644 618 C644 568 694 534 756 534 C818 534 868 568 868 618 C868 655 820 678 756 678 C692 678 644 655 644 618 Z" fill="#fbfcfd" opacity="0.22"/>
<g clip-path="url(#cl3)">
  <rect x="644" y="534" width="224" height="85" fill="url(#warm)"/>
  <path d="M652 618 C665 608 690 604 714 606 L714 618 Z" fill="#cfc566"/>
  <path d="M697 618 C715 606 735 596 750 595 C780 596 805 606 830 610 C842 612 852 615 858 618 Z" fill="#8db63e"/>
  <path d="M790 618 C810 606 830 604 855 614 L858 618 Z" fill="#b8c157"/>
</g>
<path clip-path="url(#upper)" d="M644 618 C644 568 694 534 756 534 C818 534 868 568 868 618 C868 655 820 678 756 678 C692 678 644 655 644 618 Z" fill="none" stroke="#fff" stroke-width="3" opacity="0.6"/>
<!-- orange tower -->
<g fill="#f1a94e" opacity="0.9">
  <rect x="685" y="569" width="28" height="25"/>
  <rect x="687" y="594" width="2.5" height="18"/><rect x="708" y="594" width="2.5" height="18"/><rect x="697" y="594" width="2" height="18"/>
</g>
<g stroke="#fcd9a8" stroke-width="0.8"><line x1="685" y1="575" x2="713" y2="575"/><line x1="685" y1="581" x2="713" y2="581"/><line x1="685" y1="587" x2="713" y2="587"/></g>
<!-- orange building -->
<path d="M800 563 L826 563 L835 570 V601 H800 Z" fill="#f1a448"/>
<rect x="800" y="563" width="35" height="5" fill="#e8922e"/>
<g fill="#fce3bf"><rect x="804" y="584" width="10" height="15"/><rect x="819" y="584" width="10" height="15"/></g>
<!-- sensor -->
<path d="M741 566 C741 556 744 554 760 554 C776 554 780 556 780 566" fill="none" stroke="#f0a030" stroke-width="4"/>
<g fill="none" stroke="#3a70b8" stroke-width="2.6"><path d="M741 551 C750 543 771 543 780 551"/><path d="M745 548 C752 541 769 541 776 548" stroke-width="0" /></g>
<path d="M742 549 C752 541 770 541 779 549" fill="none" stroke="#3a70b8" stroke-width="2.5"/>
<path d="M736 545 C750 535 771 535 785 545" fill="none" stroke="#3a70b8" stroke-width="2.5" opacity="0.0"/>
<rect x="733" y="600" width="53" height="18" rx="7" fill="#1b3868"/>
<g fill="#264d8a" stroke="#172f5e" stroke-width="0.8">
  <rect x="729" y="596" width="62" height="9" rx="4.5"/>
  <rect x="729" y="588" width="62" height="9" rx="4.5"/>
  <rect x="729" y="580" width="62" height="9" rx="4.5"/>
  <rect x="729" y="572" width="62" height="9" rx="4.5"/>
</g>
<g fill="#7ea8da" opacity="0.7"><rect x="748" y="574" width="24" height="2" rx="1"/><rect x="748" y="582" width="24" height="2" rx="1"/><rect x="748" y="590" width="24" height="2" rx="1"/><rect x="748" y="598" width="24" height="2" rx="1"/></g>
<rect x="731" y="562" width="58" height="12" rx="5" fill="#34619f"/>
<rect x="753" y="565" width="13" height="8" rx="2.5" fill="#f4f7fb"/>

<!-- shelf -->
<defs>
  <linearGradient id="shelfG" gradientUnits="userSpaceOnUse" x1="40" y1="0" x2="960" y2="0">
    <stop offset="0" stop-color="#f3f8fc" stop-opacity="0"/>
    <stop offset="0.1" stop-color="#f3f8fc" stop-opacity="0.6"/>
    <stop offset="0.88" stop-color="#f3f8fc" stop-opacity="0.6"/>
    <stop offset="1" stop-color="#f3f8fc" stop-opacity="0"/>
  </linearGradient>
  <linearGradient id="shelfL" gradientUnits="userSpaceOnUse" x1="40" y1="0" x2="980" y2="0">
    <stop offset="0" stop-color="#4f6179" stop-opacity="0"/>
    <stop offset="0.08" stop-color="#4f6179" stop-opacity="0.6"/>
    <stop offset="0.9" stop-color="#4f6179" stop-opacity="0.6"/>
    <stop offset="1" stop-color="#4f6179" stop-opacity="0"/>
  </linearGradient>
</defs>
<rect x="40" y="618.5" width="930" height="35.5" fill="url(#shelfG)"/>
<rect x="40" y="617" width="940" height="1.6" fill="url(#shelfL)"/>

<!-- headings -->
<g fill="#1c3a78" stroke="#1c3a78" stroke-width="0.35">
<text x="103.0" y="182.5" font-size="27.5" textLength="233.0" lengthAdjust="spacingAndGlyphs">Industrial Automation</text>
<text x="94.1" y="319.8" font-size="21.5" textLength="225.1" lengthAdjust="spacingAndGlyphs">Smart Manufacturing &amp; IOT</text>
<text x="681.0" y="175.0" font-size="25.4" textLength="224.2" lengthAdjust="spacingAndGlyphs">Aerospace &amp; Defense</text>
<text x="759.2" y="320.7" font-size="21.4" textLength="148.8" lengthAdjust="spacingAndGlyphs">Precision Testing</text>
<text x="52.8" y="382.7" font-size="27.0" textLength="263.0" lengthAdjust="spacingAndGlyphs">Infrastructure Monitoring</text>
<text x="746.4" y="382.5" font-size="26.0" textLength="195.8" lengthAdjust="spacingAndGlyphs">Automotive Testing</text>
<text x="66.6" y="520.2" font-size="22.0" textLength="250.1" lengthAdjust="spacingAndGlyphs">Structural Health Monitoring</text>
<text x="707.4" y="521.0" font-size="21.4" textLength="248.6" lengthAdjust="spacingAndGlyphs">Vehicle Performance Analysis</text>
<text x="144.6" y="643.8" font-size="20.0" textLength="226.6" lengthAdjust="spacingAndGlyphs">Renewable Energy Applications</text>
<text x="440.6" y="644.2" font-size="20.0" textLength="159.8" lengthAdjust="spacingAndGlyphs">AI &amp; IoT Integration</text>
<text x="657.8" y="644.3" font-size="19.7" textLength="214.6" lengthAdjust="spacingAndGlyphs">Advanced Sensor Technologies</text>
<text x="440.6" y="201" font-size="25.5" textLength="118.5" lengthAdjust="spacingAndGlyphs">5.9% CAGR</text>
</g>

<!-- platform -->
<defs>
  <linearGradient id="navy" x1="0" y1="0" x2="0.3" y2="1">
    <stop offset="0" stop-color="#1d3f72"/>
    <stop offset="0.6" stop-color="#23518e"/>
    <stop offset="1" stop-color="#2f64a6"/>
  </linearGradient>
  <linearGradient id="sideband" x1="0" y1="0" x2="1" y2="0">
    <stop offset="0" stop-color="#8ab6e0"/>
    <stop offset="0.5" stop-color="#4f89c6"/>
    <stop offset="1" stop-color="#7eaedc"/>
  </linearGradient>
</defs>
<defs>
  <radialGradient id="glass" cx="0.5" cy="0.45" r="0.55">
    <stop offset="0" stop-color="#eef5fb" stop-opacity="0.2"/>
    <stop offset="0.75" stop-color="#d9e9f6" stop-opacity="0.6"/>
    <stop offset="1" stop-color="#b7d3ee" stop-opacity="0.9"/>
  </radialGradient>
</defs>
<ellipse cx="530" cy="404" rx="214" ry="90" fill="url(#glass)"/>
<ellipse cx="530" cy="404" rx="206" ry="83" fill="none" stroke="#b9d5ef" stroke-width="9" opacity="0.8"/>
<ellipse cx="530" cy="404" rx="196" ry="76" fill="none" stroke="#eef5fb" stroke-width="3" opacity="0.9"/>
<g fill="none" stroke="#8a9fb9" stroke-width="1" stroke-dasharray="4 4" opacity="0.75">
  <ellipse cx="530" cy="396" rx="188" ry="54"/>
  <ellipse cx="530" cy="412" rx="188" ry="46"/>
</g>
<path d="M337 437 A195 50 0 0 0 727 437 L727 440 A195 58 0 0 1 337 440 Z" fill="#6a9bd0"/>
<path d="M337 437 A195 55 0 0 0 727 437 A195 60 0 0 1 337 437 Z" fill="url(#sideband)"/>
<path d="M343 435 A189 44 0 0 0 720 435 A189 52 0 0 1 343 435 Z" fill="#f2f7fc"/>
<path d="M351 433 A181 37 0 0 1 712 433 A181 44 0 0 1 351 433 Z" fill="url(#navy)"/>
<path d="M420 470 L562 412 L712 433 C700 450 660 468 600 475 Z" fill="#163766" opacity="0.25"/>
<circle cx="377" cy="368.7" r="2.5" fill="#5a6d88"/><circle cx="682" cy="369" r="2.5" fill="#5a6d88"/>

<!-- blue bar -->
<path d="M403 288 L442 272 L477 269.5 L513 281 V435 L453 453 L403 437 Z" fill="#1b57b2"/>
<path d="M453 305 L478 288 L513 281 V435 L453 453 Z" fill="#1f5fbb"/>
<path d="M403 412 L453 426 L513 408 V435 L453 453 L403 437 Z" fill="#174a94"/>
<path d="M403 288 L442 272 L477 269.5 L513 281 L478 288 L453 305 Z" fill="#2565c2"/>
<path d="M453 305 L478 288 L513 281" fill="none" stroke="#5b95dc" stroke-width="2"/>
<path d="M403 288 L453 305" fill="none" stroke="#1a52a6" stroke-width="1"/>
<line x1="453.5" y1="305" x2="453.5" y2="452" stroke="#3a7ad2" stroke-width="1" opacity="0.6"/>
<!-- orange bar -->
<path d="M552 230 L591 208 L630 202 L655 214 L657 431 L600 449 L553 432 Z" fill="#f47b1d"/>
<path d="M600 241 L622 223 L656 214 L657 431 L600 449 Z" fill="#f6871f"/>
<path d="M553 405 L600 420 L657 406 V431 L600 449 L553 432 Z" fill="#df6818"/>
<path d="M552 230 L591 208 L630 202 L655 214 L622 223 L599 241 Z" fill="#f9922a"/>
<path d="M599 241 L622 223 L656 214" fill="none" stroke="#fbb250" stroke-width="2.2"/>
<path d="M552 230 L599 241" fill="none" stroke="#f8a03a" stroke-width="1.2"/>
<line x1="600" y1="241" x2="600" y2="448" stroke="#fb9d35" stroke-width="1.2" opacity="0.8"/>

<g fill="#fff">
<text x="412.5" y="333" font-size="22" textLength="12" lengthAdjust="spacingAndGlyphs">$</text>
<text x="425" y="333" font-size="28.5" textLength="59" lengthAdjust="spacingAndGlyphs">1349</text>
<text x="486" y="333" font-size="20" textLength="17.5" lengthAdjust="spacingAndGlyphs">M</text>
<text x="434.8" y="358.5" font-size="21.5" textLength="48" lengthAdjust="spacingAndGlyphs">2024</text>
<text x="557.8" y="265" font-size="21" textLength="11.5" lengthAdjust="spacingAndGlyphs">$</text>
<text x="570" y="265" font-size="27" textLength="57" lengthAdjust="spacingAndGlyphs">2001</text>
<text x="629.5" y="265" font-size="19" textLength="18" lengthAdjust="spacingAndGlyphs">M</text>
<text x="581.2" y="291.3" font-size="23" textLength="47.5" lengthAdjust="spacingAndGlyphs">2032</text>
</g>

<!-- arrow -->
<path d="M409 259 C470 250 525 232 555 208 C570 196 583 182 592 170 L583 166.5 L611 151 L609.5 182 L601 176 C590 192 576 206 560 217 C520 242 460 256 409 259 Z" fill="#1e4a8c"/>

</svg>
</body></html>
